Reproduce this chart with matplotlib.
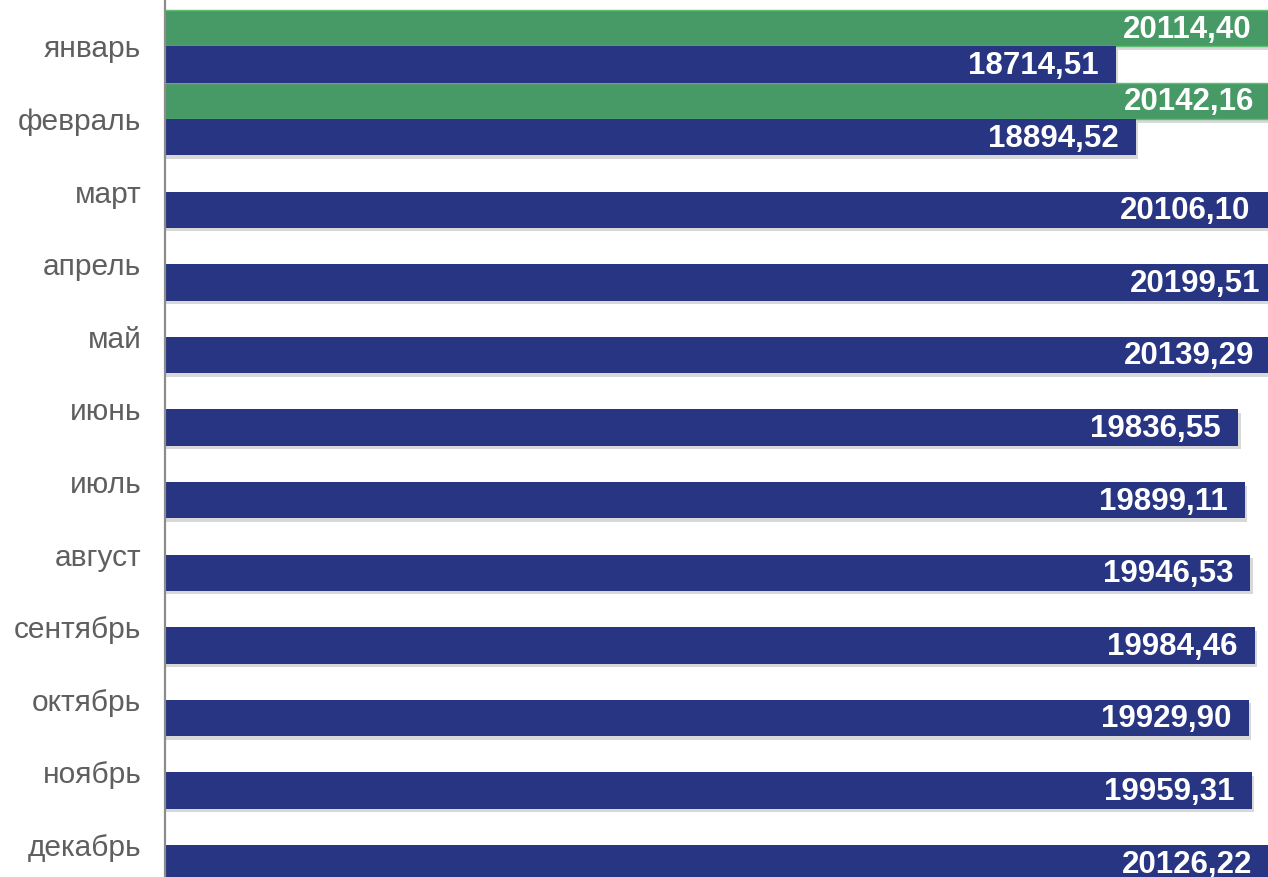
import matplotlib
matplotlib.use("Agg")
import matplotlib.pyplot as plt
import matplotlib.patheffects as pe
import numpy as np

months = ["январь", "февраль", "март", "апрель", "май", "июнь", "июль",
          "август", "сентябрь", "октябрь", "ноябрь", "декабрь"]
series_green = [20114.40, 20142.16]           # январь, февраль only
series_navy = [18714.51, 18894.52, 20106.10, 20199.51, 20139.29, 19836.55,
               19899.11, 19946.53, 19984.46, 19929.90, 19959.31, 20126.22]

GREEN = "#479a65"
GREEN_EDGE = "#5cc070"
NAVY = "#283583"
LABEL_GREY = "#5f5f5f"

plt.rcParams['font.family'] = ['Liberation Sans', 'DejaVu Sans']

W, H = 1268, 877
fig = plt.figure(figsize=(W / 100, H / 100), dpi=100)
left = 165 / W
ax = fig.add_axes([left, 0, 1 - left, 1])

y = np.arange(len(months))
h = 0.5
shadow = [pe.SimplePatchShadow(offset=(1.5, -2.5), shadow_rgbFace="#808080", alpha=0.3), pe.Normal()]

gb = ax.barh(y[:len(series_green)] - h / 2, series_green, height=h, color=GREEN,
             edgecolor=GREEN_EDGE, linewidth=1.0)
nb = ax.barh(y + h / 2, series_navy, height=h, color=NAVY, linewidth=0)
for b in list(gb) + list(nb):
    b.set_path_effects(shadow)

def fmt(v):
    return f"{v:.2f}".replace(".", ",")

for bars, vals in ((gb, series_green), (nb, series_navy)):
    for b, v in zip(bars, vals):
        ax.annotate(fmt(v), xy=(v, b.get_y() + b.get_height() / 2),
                    xytext=(-12.5, -1), textcoords="offset points",
                    ha="right", va="center", color="white",
                    fontsize=22.5, fontweight="bold", clip_on=False,
                    annotation_clip=False)

ax.set_xlim(10000, 20107)
ax.set_ylim(11 + 32 / 72.6, -46.5 / 72.6)
ax.set_yticks(y)
ax.set_yticklabels(months, fontsize=21.5, color=LABEL_GREY)
ax.tick_params(axis="y", length=0, pad=17)
ax.set_xticks([])
for s in ("top", "right", "bottom"):
    ax.spines[s].set_visible(False)
ax.spines["left"].set_color("#8c8c8c")
ax.spines["left"].set_linewidth(1.6)
ax.spines["left"].set_zorder(5)

fig.savefig("out.png", dpi=100)
